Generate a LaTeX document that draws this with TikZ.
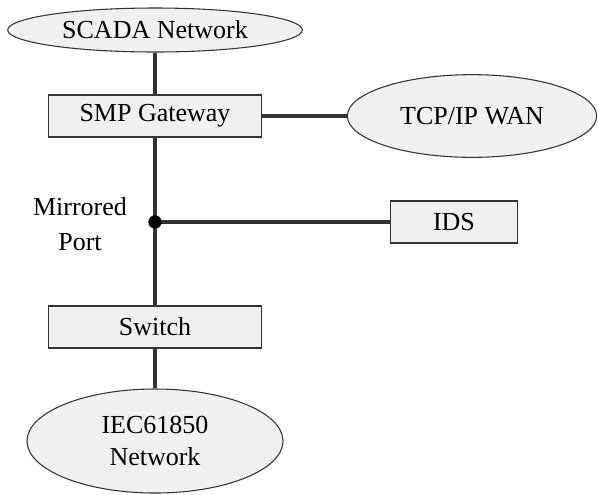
\documentclass[tikz,border=0pt]{standalone}
\usepackage{fontspec}
\setmainfont{Liberation Serif}
\usepackage{tikz}
\usetikzlibrary{shapes.geometric}

\definecolor{boxfill}{HTML}{F0F0F0}
\definecolor{linegray}{HTML}{333333}

\begin{document}
\begin{tikzpicture}[x=0.75pt,y=-0.75pt,
		font=\fontsize{19.5}{22}\selectfont]
		\useasboundingbox (0,0) rectangle (598,494);

		\begin{scope}[every node/.style={ellipse,draw=linegray,fill=boxfill,
					  inner sep=0pt,line width=0.8pt,align=center}]
			\node[minimum width=221pt,minimum height=33pt] (scada) at (155,30) {SCADA Network};
			\node[minimum width=187pt,minimum height=62pt] (wan) at (472,116) {TCP/IP WAN};
			\node[minimum width=192pt,minimum height=78pt] (iec) at (155,441) {IEC61850\\[2pt]Network};
		\end{scope}

		\begin{scope}[every node/.style={rectangle,draw=linegray,fill=boxfill,
					  inner sep=0pt,line width=1pt,minimum height=31.5pt}]
			\node[minimum width=160pt] (smp) at (155,116) {SMP Gateway};
			\node[minimum width=95pt] (ids) at (454,222) {IDS};
			\node[minimum width=160pt] (sw) at (155,327) {Switch};
		\end{scope}

		\coordinate (mp) at (155,222);
		\node[align=center] (mplabel) at (80,224) {Mirrored\\[4pt]Port};

		\begin{scope}[draw=linegray,line width=2.4pt]
			\draw (scada) -- (smp);
			\draw (smp) -- (wan);
			\draw (smp) -- (mp);
			\draw (mp) -- (sw);
			\draw (mp) -- (ids);
			\draw (sw) -- (iec);
		\end{scope}
		\fill[black] (mp) circle (5pt);
\end{tikzpicture}
\end{document}
